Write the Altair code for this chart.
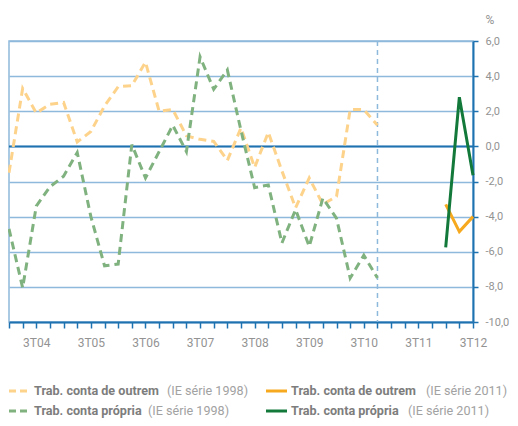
import altair as alt
import pandas as pd

# ---- data ----
quarters = [f"{q}T{y:02d}" for y in range(4, 13) for q in range(1, 5)][:35]
quarters_1998 = quarters[:28]
quarters_2011 = ["1T12", "2T12", "3T12"]

outrem_1998 = [-1.5, 3.3, 1.9, 2.4, 2.5, 0.25, 0.85, 2.3, 3.4, 3.45, 4.8, 2.0, 2.1, 0.6,
               0.4, 0.28, -0.8, 1.05, -1.2, 0.8, -1.4, -3.5, -1.8, -3.3, -2.85, 2.1, 2.1, 1.2]
propria_1998 = [-4.7, -8.05, -3.4, -2.3, -1.7, -0.35, -4.0, -6.8, -6.7, 0.1, -1.8, -0.3, 1.2, -0.3,
                5.1, 3.25, 4.35, 0.9, -2.35, -2.2, -5.5, -3.6, -5.7, -2.95, -4.1, -7.5, -6.2, -7.5]
outrem_2011 = [-3.3, -4.85, -4.0]
propria_2011 = [-5.75, 2.8, -1.65]

y_ticks = [-10, -8, -6, -4, -2, 0, 2, 4, 6]
break_quarter = ["4T10"]
zero_line = [0]

series = ["outrem_1998", "propria_1998", "outrem_2011", "propria_2011"]
legend_bold = ["Trab. conta de outrem", "Trab. conta própria",
               "Trab. conta de outrem", "Trab. conta própria"]
legend_rest = ["(IE série 1998)", "(IE série 1998)", "(IE série 2011)", "(IE série 2011)"]

rows = []
for name, qs, vals in [("outrem_1998", quarters_1998, outrem_1998),
                       ("propria_1998", quarters_1998, propria_1998),
                       ("outrem_2011", quarters_2011, outrem_2011),
                       ("propria_2011", quarters_2011, propria_2011)]:
    for q, v in zip(qs, vals):
        rows.append({"serie": name, "q": q, "v": v})
df = pd.DataFrame(rows)

# ---- styles ----
FONT = "Roboto"
GRID = "#8fb9dc"
AXIS = "#1f72b0"
LABEL = "#939393"
colors = {"outrem_1998": "#fdd38c", "propria_1998": "#80b27f",
          "outrem_2011": "#f6a91e", "propria_2011": "#12793a"}
dashed = {"outrem_1998": True, "propria_1998": True, "outrem_2011": False, "propria_2011": False}

x_enc = alt.X("q:O", scale=alt.Scale(type="point", domain=quarters, padding=0),
              axis=alt.Axis(title=None, labelAngle=0, grid=False,
                            labelExpr="substring(datum.value,0,1)=='3' ? datum.value : ''",
                            domainColor=AXIS, domainWidth=2, tickColor=AXIS, tickWidth=1.5,
                            tickSize=6, labelPadding=9, labelColor=LABEL, labelFont=FONT,
                            labelFontSize=12))
y_enc = alt.Y("v:Q", scale=alt.Scale(domain=[-10, 6], nice=False),
              axis=alt.Axis(orient="right", values=y_ticks, grid=True, gridColor=GRID,
                            gridWidth=1.5, domainColor=AXIS, domainWidth=2, tickColor=AXIS,
                            tickWidth=1.5, tickSize=5, labelPadding=7, labelColor=LABEL,
                            labelFont=FONT, labelFontSize=11,
                            labelExpr="replace(replace(format(datum.value,'.1f'),'.',','),'\u2212','-')",
                            title="%", titleAngle=0, titleAlign="left", titleBaseline="alphabetic",
                            titleX=12, titleY=-18, titleColor=LABEL, titleFont=FONT,
                            titleFontSize=12, titleFontWeight="normal"))

layers = []
zero = alt.Chart(pd.DataFrame({"v": zero_line})).mark_rule(color=AXIS, strokeWidth=2).encode(y=y_enc)
vline = alt.Chart(pd.DataFrame({"q": break_quarter})).mark_rule(
    color=GRID, strokeWidth=1.5, strokeDash=[5, 4]).encode(x=x_enc)
layers += [zero, vline]

for s in series:
    kw = dict(color=colors[s], strokeWidth=3)
    if dashed[s]:
        kw["strokeDash"] = [8, 5]
    layers.append(alt.Chart(df).transform_filter(alt.datum.serie == s)
                  .mark_line(**kw).encode(x=x_enc, y=y_enc))

# ---- custom legend (2 x 2) ----
one = pd.DataFrame({"k": [0]})
legend_pos = [(0, 350), (0, 370), (257, 350), (257, 370)]
rest_offset = [158, 139, 160, 142]
for i, s in enumerate(series):
    lx, ly = legend_pos[i]
    rkw = dict(color=colors[s], strokeWidth=3)
    if dashed[s]:
        rkw["strokeDash"] = [7, 4]
    layers.append(alt.Chart(one).mark_rule(**rkw).encode(
        x=alt.value(lx), x2=alt.value(lx + 19 if dashed[s] else lx + 21), y=alt.value(ly)))
    layers.append(alt.Chart(one).mark_text(
        align="left", baseline="middle", font=FONT, fontSize=12.6, fontWeight="bold",
        color="#7d7d7d").encode(x=alt.value(lx + 25), y=alt.value(ly), text=alt.value(legend_bold[i])))
    layers.append(alt.Chart(one).mark_text(
        align="left", baseline="middle", font=FONT, fontSize=12.6, fontWeight="normal",
        color="#a2a2a2").encode(x=alt.value(lx + rest_offset[i]), y=alt.value(ly),
                                text=alt.value(legend_rest[i])))

# svg is 502 x 410: fits the page body (518 - 2*8 margin) without rescaling
chart = alt.layer(*layers).properties(
    width=464, height=281,
    autosize=alt.AutoSizeParams(type="none"),
    padding={"left": 1, "top": 33, "right": 37, "bottom": 96},
).configure_view(stroke=GRID, strokeWidth=1.5)

chart.save("out.html", embed_options={"renderer": "svg", "actions": False})
